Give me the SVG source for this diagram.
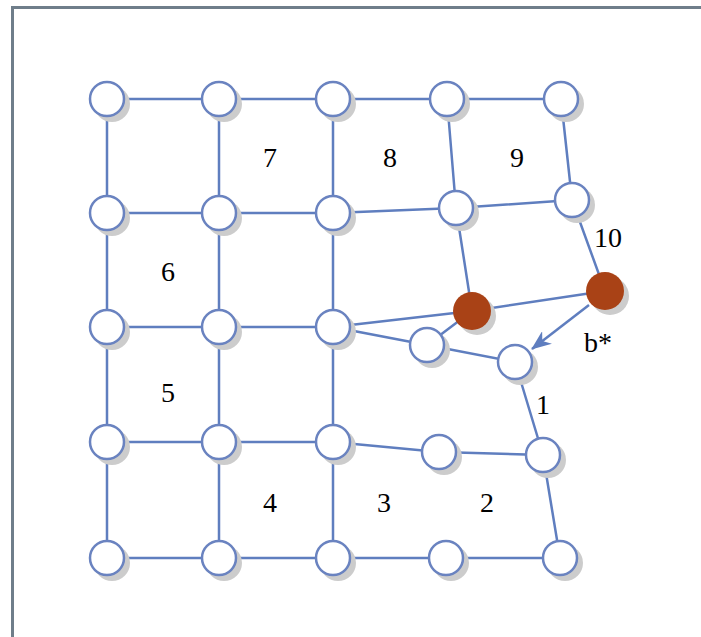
<svg xmlns="http://www.w3.org/2000/svg" width="701" height="637" viewBox="0 0 701 637">
<defs>
<style>
.e{stroke:#5f7ebf;stroke-width:2.5;fill:none}
.n{fill:#fff;stroke:#6a83c0;stroke-width:2.5}
.r{fill:#a94216;stroke:none}
.s{fill:#cccccc}
</style>
<marker id="ah" viewBox="0 0 20 16" refX="19" refY="8" markerWidth="20" markerHeight="16" orient="auto" markerUnits="userSpaceOnUse">
<path d="M0,0 L20,8 L0,16 L6,8 z" fill="#5f7ebf"/>
</marker>
</defs>
<rect width="701" height="637" fill="#fff"/>
<path d="M12.5,637 V7.5 H701" fill="none" stroke="#6f7e8a" stroke-width="3"/>
<g id="connectors">
<path class="e" d="M107,99 H561"/>
<path class="e" d="M107,99 V558 M219,99 V558 M333,99 V558"/>
<path class="e" d="M447,99 L456,208 M561,99 L572,200"/>
<path class="e" d="M107,213 H333 L456,208 L572,200"/>
<path class="e" d="M456,208 L472,311 M572,200 L605,291"/>
<path class="e" d="M107,327 H333 L472,311 L605,291"/>
<path class="e" d="M333,327 L427,345 L515,362 L543,455 M427,345 L472,311"/>
<path class="e" d="M107,442 H333 L439,452 L543,455 L560,558"/>
<path class="e" d="M107,558 H560"/>
<path class="e" d="M589,305 L532,349" marker-end="url(#ah)"/>
</g>
<g id="nodes">
<g id="n1"><circle class="s" cx="112" cy="104" r="18"/><circle class="n" cx="107" cy="99" r="17"/></g>
<g id="n2"><circle class="s" cx="224" cy="104" r="18"/><circle class="n" cx="219" cy="99" r="17"/></g>
<g id="n3"><circle class="s" cx="338" cy="104" r="18"/><circle class="n" cx="333" cy="99" r="17"/></g>
<g id="n4"><circle class="s" cx="452" cy="104" r="18"/><circle class="n" cx="447" cy="99" r="17"/></g>
<g id="n5"><circle class="s" cx="566" cy="104" r="18"/><circle class="n" cx="561" cy="99" r="17"/></g>
<g id="n6"><circle class="s" cx="112" cy="218" r="18"/><circle class="n" cx="107" cy="213" r="17"/></g>
<g id="n7"><circle class="s" cx="224" cy="218" r="18"/><circle class="n" cx="219" cy="213" r="17"/></g>
<g id="n8"><circle class="s" cx="338" cy="218" r="18"/><circle class="n" cx="333" cy="213" r="17"/></g>
<g id="n9"><circle class="s" cx="461" cy="213" r="18"/><circle class="n" cx="456" cy="208" r="17"/></g>
<g id="n10"><circle class="s" cx="577" cy="205" r="18"/><circle class="n" cx="572" cy="200" r="17"/></g>
<g id="n11"><circle class="s" cx="112" cy="332" r="18"/><circle class="n" cx="107" cy="327" r="17"/></g>
<g id="n12"><circle class="s" cx="224" cy="332" r="18"/><circle class="n" cx="219" cy="327" r="17"/></g>
<g id="n13"><circle class="s" cx="338" cy="332" r="18"/><circle class="n" cx="333" cy="327" r="17"/></g>
<g id="n14"><circle class="s" cx="477" cy="316" r="19"/><circle class="r" cx="472" cy="311" r="19"/></g>
<g id="n15"><circle class="s" cx="610" cy="296" r="19"/><circle class="r" cx="605" cy="291" r="19"/></g>
<g id="n16"><circle class="s" cx="432" cy="350" r="18"/><circle class="n" cx="427" cy="345" r="17"/></g>
<g id="n17"><circle class="s" cx="520" cy="367" r="18"/><circle class="n" cx="515" cy="362" r="17"/></g>
<g id="n18"><circle class="s" cx="112" cy="447" r="18"/><circle class="n" cx="107" cy="442" r="17"/></g>
<g id="n19"><circle class="s" cx="224" cy="447" r="18"/><circle class="n" cx="219" cy="442" r="17"/></g>
<g id="n20"><circle class="s" cx="338" cy="447" r="18"/><circle class="n" cx="333" cy="442" r="17"/></g>
<g id="n21"><circle class="s" cx="444" cy="457" r="18"/><circle class="n" cx="439" cy="452" r="17"/></g>
<g id="n22"><circle class="s" cx="548" cy="460" r="18"/><circle class="n" cx="543" cy="455" r="17"/></g>
<g id="n23"><circle class="s" cx="112" cy="563" r="18"/><circle class="n" cx="107" cy="558" r="17"/></g>
<g id="n24"><circle class="s" cx="224" cy="563" r="18"/><circle class="n" cx="219" cy="558" r="17"/></g>
<g id="n25"><circle class="s" cx="338" cy="563" r="18"/><circle class="n" cx="333" cy="558" r="17"/></g>
<g id="n26"><circle class="s" cx="451" cy="563" r="18"/><circle class="n" cx="446" cy="558" r="17"/></g>
<g id="n27"><circle class="s" cx="565" cy="563" r="18"/><circle class="n" cx="560" cy="558" r="17"/></g>
</g>
<g id="labels" font-family="'Liberation Serif', 'Times New Roman', serif" font-size="28" fill="#000" text-anchor="middle">
<text x="270" y="167">7</text>
<text x="390" y="167">8</text>
<text x="517" y="167">9</text>
<text x="168" y="281">6</text>
<text x="168" y="402">5</text>
<text x="270" y="512">4</text>
<text x="384" y="512">3</text>
<text x="487" y="512">2</text>
<text x="543" y="414">1</text>
<text x="608" y="247">10</text>
<text x="598" y="352">b*</text>
</g>
</svg>
